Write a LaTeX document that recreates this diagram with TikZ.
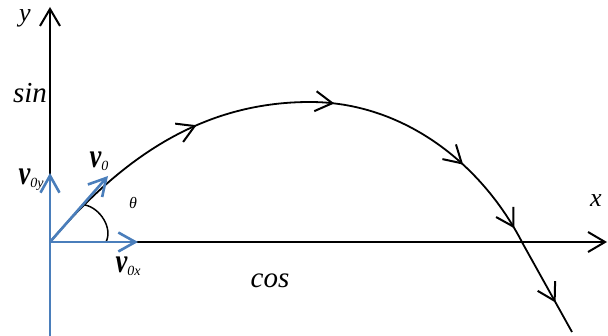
\documentclass[tikz,border=0pt]{standalone}
\usepackage{fontspec}
\setmainfont{Liberation Serif}
\usetikzlibrary{arrows.meta,decorations.markings}
\definecolor{vblue}{HTML}{4A7EBB}
\tikzset{
  tipbarb/.tip={Straight Barb[length=17pt,width=20pt,line width=2pt]},
  axisline/.style={line width=2pt,black,-{tipbarb}},
  vecline/.style={line width=2.6pt,vblue,-{Straight Barb[length=17pt,width=19pt,line width=2.6pt]}},
  lbl/.style={inner sep=0pt,font=\itshape},
  vlbl/.style={inner sep=0pt},
  traj/.style={line width=1.8pt,black},
}
\newcommand{\vsym}[1]{\scalebox{0.78}[1]{\fontsize{34}{34}\selectfont\bfseries\itshape v}\raisebox{-3pt}{\fontsize{14}{14}\selectfont\itshape #1}}
\begin{document}
\begin{tikzpicture}[x=1pt,y=-1pt]
\useasboundingbox (0,0) rectangle (608,336);
\coordinate (O) at (50,242);
\coordinate (ytip) at (50,7);
\coordinate (xtip) at (607,242);
\coordinate (ybot) at (50,336);
\coordinate (v0ytip) at (50,173);
\coordinate (v0xtip) at (138,242);
\coordinate (v0tip) at (108,176);
\coordinate (arcA) at (106,242);
\coordinate (arcB) at (85,205);
\coordinate (apex) at (310,102);
\coordinate (cross) at (523,244);
\coordinate (tend) at (572,332);
% axes
\draw[axisline] (O) -- (ytip);
\draw[axisline] (O) -- (xtip);
% trajectory
\draw[traj,
  decoration={markings,
    mark=at position 189pt with {\arrow{tipbarb}},
    mark=at position 330pt with {\arrow{tipbarb}},
    mark=at position 475pt with {\arrow{tipbarb}},
    mark=at position 557pt with {\arrow{tipbarb}},
    mark=at position 642pt with {\arrow{tipbarb}}},
  postaction=decorate]
  (O) .. controls (120,160) and (200,102) .. (apex)
      .. controls (400,102) and (480,160) .. (cross) -- (tend);
% angle arc
\draw[line width=1.5pt] (arcA) .. controls (113,228) and (100,208) .. (arcB);
% blue vectors
\draw[line width=2.6pt,vblue] (ybot) -- (O);
\draw[vecline] (O) -- (v0ytip);
\draw[vecline] (O) -- (v0xtip);
\draw[vecline] (O) -- (v0tip);
% labels
\node[lbl,font=\fontsize{26}{26}\selectfont\itshape] (ylab) at (25,18) {y};
\node[lbl,font=\fontsize{29}{29}\selectfont\itshape] (sinlab) at (30,93) {sin};
\node[lbl,font=\fontsize{29}{29}\selectfont\itshape] (coslab) at (270,281) {cos};
\node[lbl,font=\fontsize{26}{26}\selectfont\itshape] (xlab) at (596,201) {x};
\node[lbl,font=\fontsize{16}{16}\selectfont\itshape] (thlab) at (133,203) {θ};
\node[vlbl] (v0ylab) at (31,180) {\vsym{0y}};
\node[vlbl] (v0lab) at (99,161) {\vsym{0}};
\node[vlbl] (v0xlab) at (128,266) {\vsym{0x}};
\end{tikzpicture}
\end{document}
